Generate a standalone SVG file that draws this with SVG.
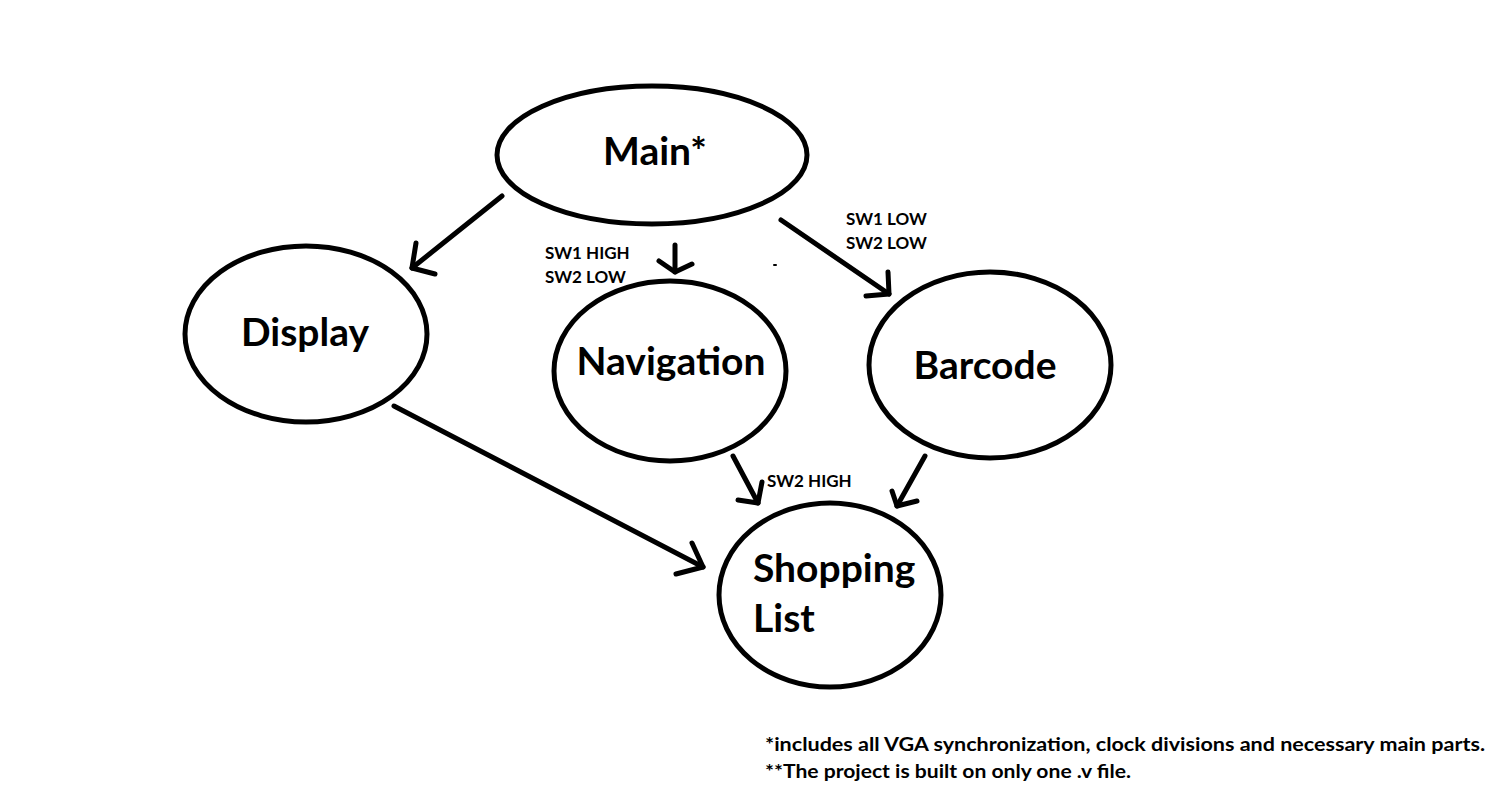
<svg xmlns="http://www.w3.org/2000/svg" width="1502" height="801" viewBox="0 0 1502 801">
<style>
.n{fill:#fff;stroke:#000;stroke-width:5}
.t{font-family:Lato,"Noto Sans",sans-serif;font-weight:bold;fill:#000}
.big{font-size:39px}
.lbl{font-size:17px}
.note{font-size:19px}
.c line,.c polyline{stroke:#000;stroke-width:5;fill:none;stroke-linecap:round;stroke-linejoin:round}
</style>
<rect width="1502" height="801" fill="#fff"/>
<g id="main"><ellipse class="n" cx="652" cy="155" rx="155" ry="69"/><text class="t big" x="655" y="165" text-anchor="middle">Main*</text></g>
<g id="display"><ellipse class="n" cx="306" cy="334" rx="121" ry="88"/><text class="t big" x="305" y="346" text-anchor="middle">Display</text></g>
<g id="navigation"><ellipse class="n" cx="670" cy="371" rx="116" ry="90"/><text class="t big" x="671" y="375" text-anchor="middle">Navigation</text></g>
<g id="barcode"><ellipse class="n" cx="990" cy="365" rx="121" ry="93"/><text class="t big" x="985" y="379" text-anchor="middle">Barcode</text></g>
<g id="shopping"><ellipse class="n" cx="830" cy="595" rx="111" ry="92"/><text class="t big" x="753" y="582">Shopping</text><text class="t big" x="753" y="632">List</text></g>
<g class="c" id="connectors">
<line x1="502" y1="196" x2="412" y2="268"/><polyline points="416,243 412,268 435,274"/>
<line x1="675" y1="245" x2="675" y2="272"/><polyline points="659,261 675,272 692,264"/>
<line x1="781" y1="220" x2="889" y2="294"/><polyline points="888,272 889,294 866,296"/>
<line x1="733" y1="456" x2="758" y2="503"/><polyline points="762,482 758,503 738,500"/>
<line x1="925" y1="456" x2="897" y2="506"/><polyline points="892,491 897,506 917,501"/>
<line x1="394" y1="406" x2="703" y2="567"/><polyline points="692,543 703,567 676,574"/>
<line x1="774" y1="265" x2="776" y2="265" style="stroke-width:2"/>
</g>
<g id="labels">
<text class="t lbl" x="545" y="259">SW1 HIGH</text>
<text class="t lbl" x="545" y="283">SW2 LOW</text>
<text class="t lbl" x="846" y="225">SW1 LOW</text>
<text class="t lbl" x="846" y="249">SW2 LOW</text>
<text class="t lbl" x="767" y="487">SW2 HIGH</text>
<text class="t note" x="765" y="751" textLength="720" lengthAdjust="spacingAndGlyphs">*includes all VGA synchronization, clock divisions and necessary main parts.</text>
<text class="t note" x="765" y="778" textLength="366" lengthAdjust="spacingAndGlyphs">**The project is built on only one .v file.</text>
</g>
</svg>
